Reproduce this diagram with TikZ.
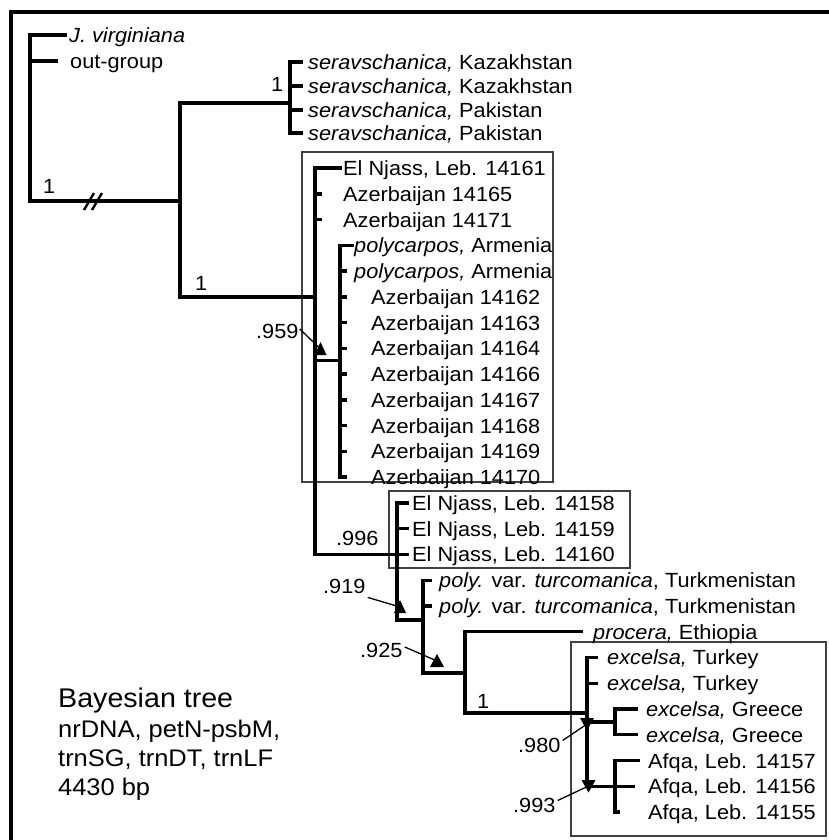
\documentclass[tikz,border=0pt]{standalone}
\usepackage{fontspec}
\setmainfont{Liberation Sans}[FakeStretch=1.06]
\begin{document}
\begin{tikzpicture}[x=1pt,y=-1pt,
  tree/.style={line width=3.4pt, line join=miter, line cap=butt},
  taxon/.style={anchor=west, inner sep=0pt, text height=15pt, text depth=0pt, font=\fontsize{20.5}{24}\selectfont},
  supp/.style={anchor=base west, inner sep=0pt, font=\fontsize{20.5}{24}\selectfont},
  legbig/.style={anchor=base west, inner sep=0pt, font=\fontsize{27}{30}\selectfont},
  leg/.style={anchor=base west, inner sep=0pt, font=\fontsize{24}{27}\selectfont},
  boxline/.style={line width=1.4pt, draw=black!75},
  pointer/.style={line width=1.3pt},
  frame/.style={line width=3.4pt}
]
\useasboundingbox (0,0) rectangle (828,840);
\fill[white] (0,0) rectangle (828,840);
\draw[frame] (11,850) -- (11,12) -- (840,12);

% boxes
\draw[boxline] (302,152) rectangle (553,482);
\draw[boxline] (389,491) rectangle (630,568);
\draw[boxline] (571,642) rectangle (826,836);

% taxa
\node[taxon] (jv) at (69,35) {\textit{J. virginiana}};
\node[taxon] (og) at (70,61) {out-group};
\node[taxon] (s1) at (308,62) {\textit{seravschanica,} Kazakhstan};
\node[taxon] (s2) at (308,86) {\textit{seravschanica,} Kazakhstan};
\node[taxon] (s3) at (308,110) {\textit{seravschanica,} Pakistan};
\node[taxon] (s4) at (308,133) {\textit{seravschanica,} Pakistan};
\node[taxon] (a0) at (343,168.0) {El Njass, Leb. 14161};
\node[taxon] (a1) at (343,193.8) {Azerbaijan 14165};
\node[taxon] (a2) at (343,219.5) {Azerbaijan 14171};
\node[taxon] (a3) at (354,245.3) {\textit{polycarpos,} Armenia};
\node[taxon] (a4) at (354,271.0) {\textit{polycarpos,} Armenia};
\node[taxon] (a5) at (371,296.8) {Azerbaijan 14162};
\node[taxon] (a6) at (371,322.6) {Azerbaijan 14163};
\node[taxon] (a7) at (371,348.3) {Azerbaijan 14164};
\node[taxon] (a8) at (371,374.1) {Azerbaijan 14166};
\node[taxon] (a9) at (371,399.8) {Azerbaijan 14167};
\node[taxon] (a10) at (371,425.6) {Azerbaijan 14168};
\node[taxon] (a11) at (371,451.4) {Azerbaijan 14169};
\node[taxon] (a12) at (371,477.1) {Azerbaijan 14170};
\node[taxon] (e13) at (412,502.9) {El Njass, Leb. 14158};
\node[taxon] (e14) at (412,528.6) {El Njass, Leb. 14159};
\node[taxon] (e15) at (412,554.4) {El Njass, Leb. 14160};
\node[taxon] (p16) at (439,580.2) {\textit{poly.} var. \textit{turcomanica}, Turkmenistan};
\node[taxon] (p17) at (439,605.9) {\textit{poly.} var. \textit{turcomanica}, Turkmenistan};
\node[taxon] (pr) at (593,631.7) {\textit{procera,} Ethiopia};
\node[taxon] (x19) at (607,657.4) {\textit{excelsa,} Turkey};
\node[taxon] (x20) at (607,683.2) {\textit{excelsa,} Turkey};
\node[taxon] (g21) at (646,709.0) {\textit{excelsa,} Greece};
\node[taxon] (g22) at (646,734.7) {\textit{excelsa,} Greece};
\node[taxon] (f23) at (648,760.5) {Afqa, Leb. 14157};
\node[taxon] (f24) at (648,786.2) {Afqa, Leb. 14156};
\node[taxon] (f25) at (648,812.0) {Afqa, Leb. 14155};

% internal nodes
\coordinate (root) at (30,201);
\coordinate (nA) at (180,201);
\coordinate (nSer) at (290,103);
\coordinate (nB) at (315,296.8);
\coordinate (nPoly) at (340,360.7);
\coordinate (nE) at (397,554.4);
\coordinate (nT) at (423,620);
\coordinate (nP) at (465,673);
\coordinate (nX) at (587,713);
\coordinate (nG) at (615,722);
\coordinate (nF) at (615,786.2);

% outgroup and root
\draw[tree] ([xshift=-2pt]jv.west) -| (root) -- (nA);
\draw[tree] (root |- og.west) -- ++(28,0);
\draw[line width=2.4pt] (84,210) -- (94,193) (92,210) -- (102,193);
\draw[tree] (nSer) -| (nA) |- (nB);

% seravschanica
\draw[tree] ([xshift=-5pt]s1.west) -- (s1.west -| nSer) -- (s4.west -| nSer) -- ([xshift=-5pt]s4.west);
\draw[tree] (s2.west -| nSer) -- ++(13,0);
\draw[tree] (s3.west -| nSer) -- ++(13,0);

% clade B
\draw[tree] ([xshift=-1pt]a0.west) -| (nB |- nE) -- (nE);
\draw[tree] (nB |- a1.west) -- ++(7,0);
\draw[tree] (nB |- a2.west) -- ++(7,0);
\draw[tree] (nB |- nPoly) -- (nPoly);
\draw[tree] (a3.west) -| (nPoly |- a12.west) -- ++(7,0);
\foreach \k in {a4,a5,a6,a7,a8,a9,a10,a11} \draw[tree] (nPoly |- \k.west) -- ++(7,0);

% clade E
\draw[tree] ([xshift=-3pt]e13.west) -| (nE |- nT) -- (nT);
\draw[tree] (nE |- e14.west) -- ([xshift=-3pt]e14.west);
\draw[tree] (nE) -- ([xshift=-3pt]e15.west);

% clade T
\draw[tree] ([xshift=-7pt]p16.west) -| (nP -| nT) -- (nP);
\draw[tree] (nT |- p17.west) -- ++(9,0);

% clade P
\draw[tree] ([xshift=-10pt]pr.west) -| (nX -| nP) -- (nX);

% clade X
\draw[tree] ([xshift=-9pt]x19.west) -| (nX |- nF) -- ([xshift=-13pt]f24.west);
\draw[tree] (nX |- x20.west) -- ++(11,0);
\draw[tree] (nX |- nG) -- (nG);
\draw[tree] ([xshift=-8pt]g21.west) -| (nG |- g22.west) -- ([xshift=-8pt]g22.west);
\draw[tree] ([xshift=-8pt]f23.west) -| (nF |- f25.west) -- ++(5,0);

% support values
\node[supp] (l1a) at (43,193) {1};
\node[supp] (l1b) at (271,92) {1};
\node[supp] (l1c) at (195,290) {1};
\node[supp] (l1d) at (477,708) {1};
\node[supp] (l996) at (336,545) {.996};
\node[supp] (l959) at (256,338) {.959};
\node[supp] (l919) at (323,593) {.919};
\node[supp] (l925) at (360,657) {.925};
\node[supp] (l980) at (518,752) {.980};
\node[supp] (l993) at (513,812) {.993};

\coordinate (k959) at (320.5,349);
\coordinate (k919) at (400,607);
\coordinate (k925) at (437,661);
\coordinate (k980) at (587,724);
\coordinate (k993) at (588.5,786);

\draw[pointer] ([xshift=1pt,yshift=2pt]l959.east) -- (k959);
\draw[pointer] ([xshift=2pt,yshift=-4pt]l919.south east) -- (k919);
\draw[pointer] ([xshift=2pt,yshift=3pt]l925.east) -- (k925);
\draw[pointer] ([xshift=2pt,yshift=-3pt]l980.north east) -- (k980);
\draw[pointer] ([xshift=2pt,yshift=-3pt]l993.north east) -- (k993);

\fill (k959) ++(-6,6) -- ++(12,0) -- ++(-6,-13) -- cycle;
\fill (k919) ++(-6,6) -- ++(12,0) -- ++(-6,-13) -- cycle;
\fill (k925) ++(-7,6) -- ++(14,0) -- ++(-7,-13) -- cycle;
\fill (k980) ++(-7,-6) -- ++(14,0) -- ++(-7,12.5) -- cycle;
\fill (k993) ++(-7,-6) -- ++(14,0) -- ++(-7,12.5) -- cycle;

% legend
\node[legbig] (lg1) at (58,707) {Bayesian tree};
\node[leg] (lg2) at (58,737) {nrDNA, petN-psbM,};
\node[leg] (lg3) at (58,766) {trnSG, trnDT, trnLF};
\node[leg] (lg4) at (58,795) {4430 bp};
\end{tikzpicture}
\end{document}
